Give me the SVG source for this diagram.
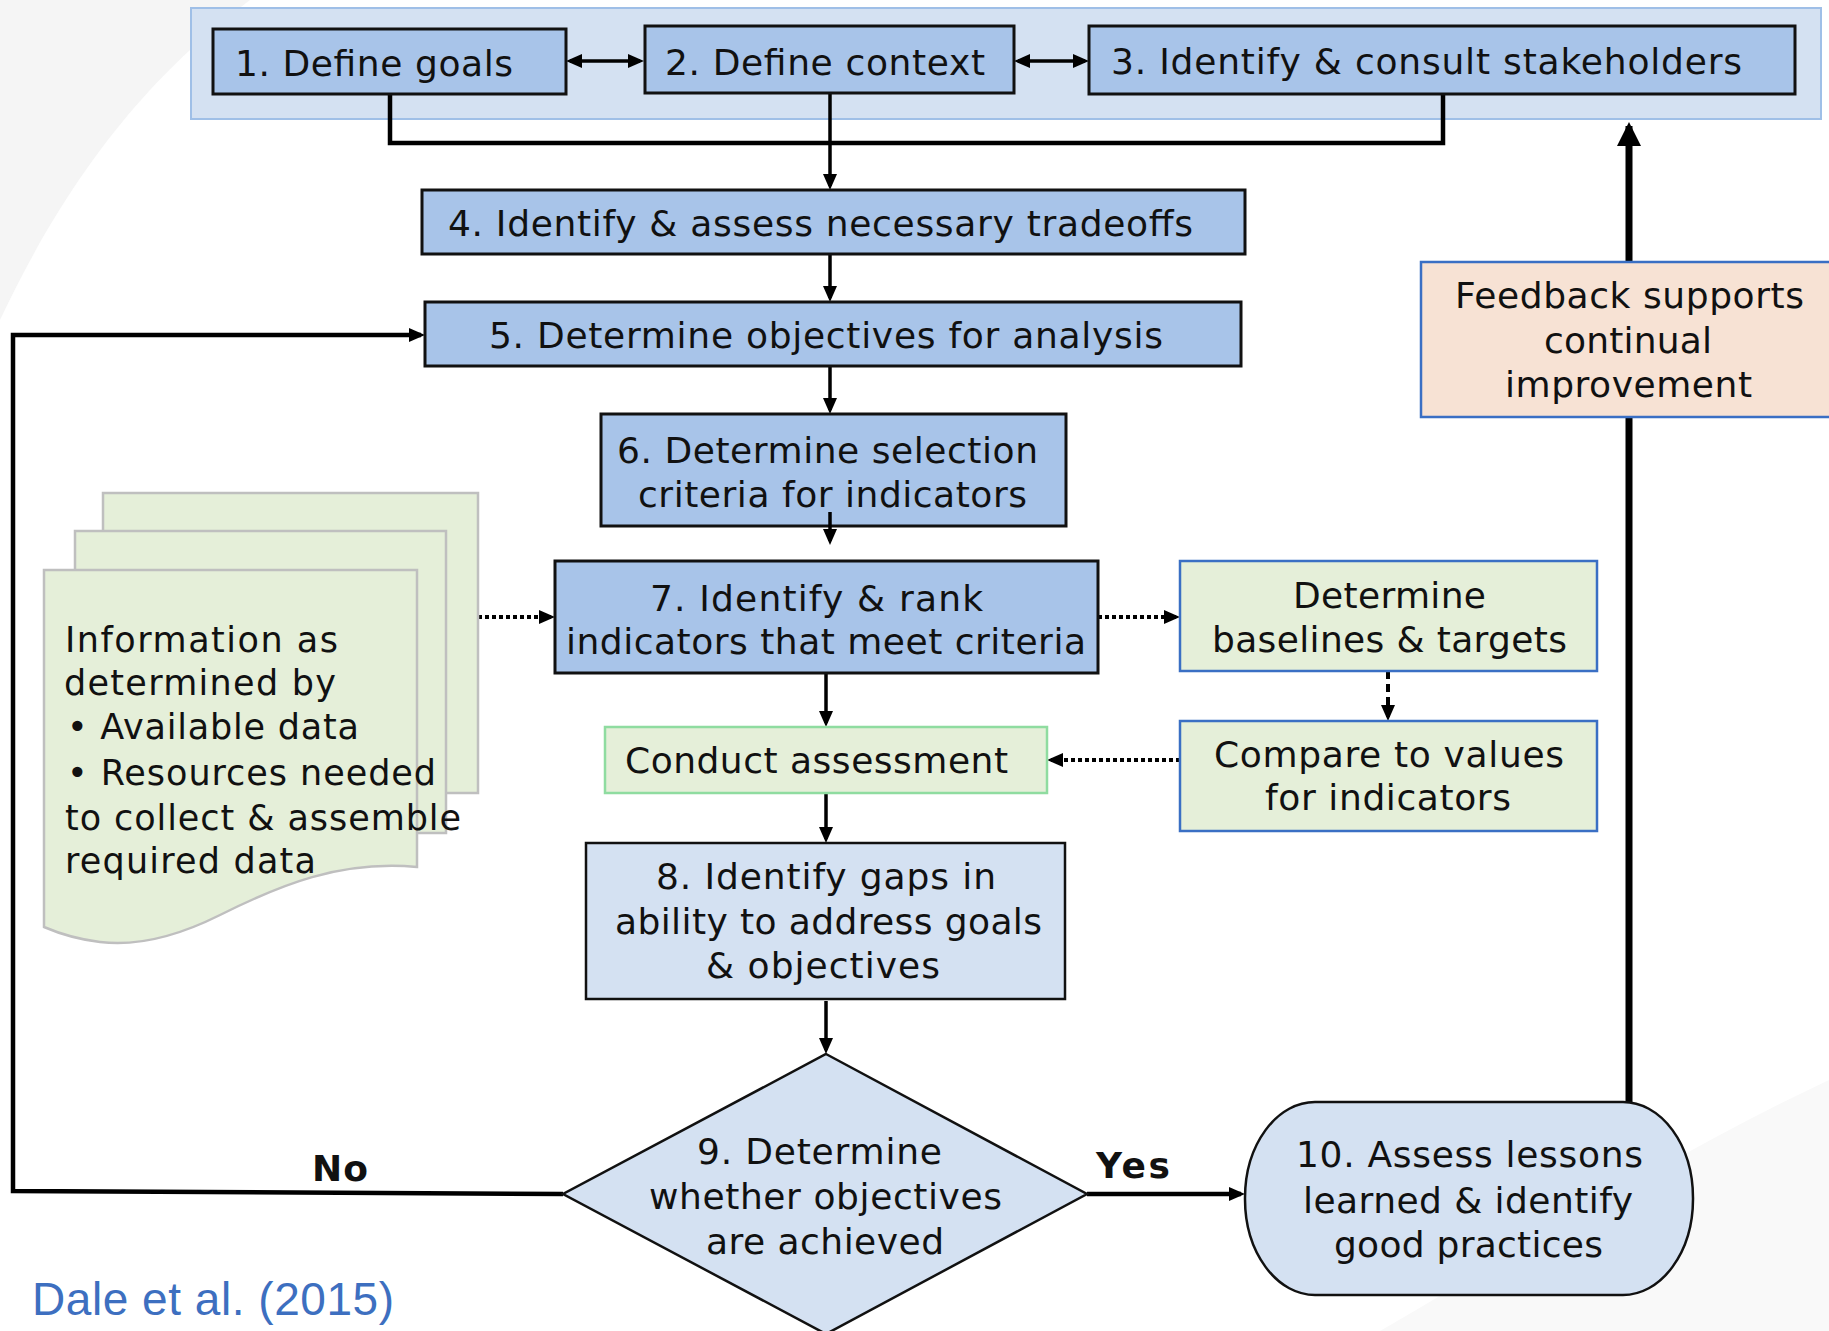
<svg xmlns="http://www.w3.org/2000/svg" width="1829" height="1331" viewBox="0 0 1829 1331">
  <defs>
    <style>
      .t{font-family:"DejaVu Sans","Noto Sans",sans-serif;font-size:36px;fill:#111}
      .doc{font-size:35px}
      .bold{font-weight:bold;font-size:36px}
      .cite{font-family:"Liberation Sans",Arial,sans-serif;font-size:46px;fill:#3d6fc0}
      .dark{fill:#a8c4e9;stroke:#111;stroke-width:3}
      .pale{fill:#d4e1f2;stroke:#111;stroke-width:2.5}
      .green{fill:#e5efd9;stroke:#3a6fc4;stroke-width:2.5}
      .sheet{fill:#e5efd9;stroke:#bfbfbf;stroke-width:2.5}
      .ln{fill:none;stroke:#000;stroke-width:3.5}
      .thick{fill:none;stroke:#000;stroke-width:4.5}
      .dot{fill:none;stroke:#000;stroke-width:4;stroke-dasharray:4 3}
      .dash{fill:none;stroke:#000;stroke-width:4;stroke-dasharray:8 5}
    </style>
    <marker id="ah" markerUnits="userSpaceOnUse" markerWidth="16" markerHeight="14" viewBox="0 0 16 14" refX="12" refY="7" orient="auto-start-reverse">
      <path d="M0,0 L16,7 L0,14 z" fill="#000"/>
    </marker>
    <marker id="ahBig" markerUnits="userSpaceOnUse" markerWidth="24" markerHeight="24" viewBox="0 0 24 24" refX="20" refY="12" orient="auto">
      <path d="M0,0 L24,12 L0,24 z" fill="#000"/>
    </marker>
  </defs>

  <!-- faint slide background swooshes -->
  <path d="M0,0 H250 C170,60 80,150 0,320 Z" fill="#f5f5f5"/>
  <path d="M1829,1331 H1380 C1520,1250 1680,1150 1829,1080 Z" fill="#f9f9f9"/>

  <!-- band behind steps 1-3 -->
  <rect id="band" x="191" y="8" width="1630" height="111" fill="#d4e1f2" stroke="#9fbfe7" stroke-width="2"/>

  <g id="connectors">
    <path class="ln" d="M570,61 H640" marker-start="url(#ah)" marker-end="url(#ah)"/>
    <path class="ln" d="M1018,61 H1085" marker-start="url(#ah)" marker-end="url(#ah)"/>
    <path class="thick" d="M390,93 V143 H1443 V94"/>
    <path class="ln" d="M830,93 V186" marker-end="url(#ah)"/>
    <path class="ln" d="M830,254 V298" marker-end="url(#ah)"/>
    <path class="ln" d="M830,366 V410" marker-end="url(#ah)"/>
    <path class="dot" d="M478,617 H551" marker-end="url(#ah)"/>
    <path class="dot" d="M1098,617 H1176" marker-end="url(#ah)"/>
    <path class="dash" d="M1388,671 V717" marker-end="url(#ah)"/>
    <path class="dot" d="M1180,760 H1051" marker-end="url(#ah)"/>
    <path class="ln" d="M826,673 V723" marker-end="url(#ah)"/>
    <path class="ln" d="M826,793 V839" marker-end="url(#ah)"/>
    <path class="ln" d="M826,1001 V1050" marker-end="url(#ah)"/>
    <path class="thick" d="M563,1194 L13,1191 V335 H421" marker-end="url(#ah)"/>
    <path class="thick" d="M1087,1194 H1241" marker-end="url(#ah)"/>
    <path fill="none" stroke="#000" stroke-width="7" d="M1629,1102 V417"/>
    <path fill="none" stroke="#000" stroke-width="7" d="M1629,262 V126" marker-end="url(#ahBig)"/>
  </g>

  <g id="step1">
    <rect class="dark" x="213" y="29" width="353" height="65"/>
    <text class="t" x="235" y="76" textLength="278" lengthAdjust="spacing">1. Define goals</text>
  </g>
  <g id="step2">
    <rect class="dark" x="645" y="26" width="369" height="67"/>
    <text class="t" x="665" y="75" textLength="320" lengthAdjust="spacing">2. Define context</text>
  </g>
  <g id="step3">
    <rect class="dark" x="1089" y="26" width="706" height="68"/>
    <text class="t" x="1111" y="74" textLength="631" lengthAdjust="spacing">3. Identify &amp; consult stakeholders</text>
  </g>
  <g id="step4">
    <rect class="dark" x="422" y="190" width="823" height="64"/>
    <text class="t" x="448" y="236" textLength="745" lengthAdjust="spacing">4. Identify &amp; assess necessary tradeoffs</text>
  </g>
  <g id="step5">
    <rect class="dark" x="425" y="302" width="816" height="64"/>
    <text class="t" x="489" y="348" textLength="674" lengthAdjust="spacing">5. Determine objectives for analysis</text>
  </g>
  <g id="step6">
    <rect class="dark" x="601" y="414" width="465" height="112"/>
    <text class="t" x="617" y="463" textLength="421" lengthAdjust="spacing">6. Determine selection</text>
    <text class="t" x="638" y="507" textLength="389" lengthAdjust="spacing">criteria for indicators</text>
  </g>
  <!-- short stem of the 6 -> 7 arrow sits over the box -->
  <path class="ln" d="M830,512 V541" marker-end="url(#ah)"/>

  <g id="info-sheets">
    <rect class="sheet" x="103" y="493" width="375" height="300"/>
    <rect class="sheet" x="75" y="531" width="371" height="302"/>
    <path class="sheet" d="M44,570 H417 V867 C340,860 280,885 220,915 C180,935 140,947 100,942 C75,939 58,933 44,927 Z"/>
    <text class="t doc" x="65" y="652" textLength="273" lengthAdjust="spacing">Information as</text>
    <text class="t doc" x="64" y="695" textLength="272" lengthAdjust="spacing">determined by</text>
    <text class="t doc" x="67" y="739" textLength="292" lengthAdjust="spacing">• Available data</text>
    <text class="t doc" x="67" y="785" textLength="369" lengthAdjust="spacing">• Resources needed</text>
    <text class="t doc" x="65" y="830" textLength="396" lengthAdjust="spacing">to collect &amp; assemble</text>
    <text class="t doc" x="65" y="873" textLength="251" lengthAdjust="spacing">required data</text>
  </g>

  <g id="step7">
    <rect class="dark" x="555" y="561" width="543" height="112"/>
    <text class="t" x="650" y="611" textLength="333" lengthAdjust="spacing">7. Identify &amp; rank</text>
    <text class="t" x="566" y="654" textLength="520" lengthAdjust="spacing">indicators that meet criteria</text>
  </g>
  <g id="baselines">
    <rect class="green" x="1180" y="561" width="417" height="110"/>
    <text class="t" x="1293" y="608" textLength="193" lengthAdjust="spacing">Determine</text>
    <text class="t" x="1212" y="652" textLength="355" lengthAdjust="spacing">baselines &amp; targets</text>
  </g>
  <g id="compare">
    <rect class="green" x="1180" y="721" width="417" height="110"/>
    <text class="t" x="1214" y="767" textLength="350" lengthAdjust="spacing">Compare to values</text>
    <text class="t" x="1265" y="810" textLength="246" lengthAdjust="spacing">for indicators</text>
  </g>
  <g id="conduct">
    <rect x="605" y="727" width="442" height="66" fill="#e5efd9" stroke="#8fdca0" stroke-width="2.5"/>
    <text class="t" x="625" y="773" textLength="383" lengthAdjust="spacing">Conduct assessment</text>
  </g>
  <g id="step8">
    <rect class="pale" x="586" y="843" width="479" height="156"/>
    <text class="t" x="656" y="889" textLength="340" lengthAdjust="spacing">8. Identify gaps in</text>
    <text class="t" x="615" y="934" textLength="427" lengthAdjust="spacing">ability to address goals</text>
    <text class="t" x="706" y="978" textLength="234" lengthAdjust="spacing">&amp; objectives</text>
  </g>
  <g id="step9">
    <polygon class="pale" points="826,1054 1087,1194 826,1334 563,1194"/>
    <text class="t" x="697" y="1164" textLength="245" lengthAdjust="spacing">9. Determine</text>
    <text class="t" x="649" y="1209" textLength="353" lengthAdjust="spacing">whether objectives</text>
    <text class="t" x="706" y="1254" textLength="238" lengthAdjust="spacing">are achieved</text>
  </g>
  <g id="step10">
    <rect class="pale" x="1245" y="1102" width="448" height="193" rx="70" ry="96"/>
    <text class="t" x="1296" y="1167" textLength="347" lengthAdjust="spacing">10. Assess lessons</text>
    <text class="t" x="1303" y="1213" textLength="330" lengthAdjust="spacing">learned &amp; identify</text>
    <text class="t" x="1334" y="1257" textLength="269" lengthAdjust="spacing">good practices</text>
  </g>
  <g id="feedback">
    <rect x="1421" y="262" width="420" height="155" fill="#f7e2d4" stroke="#3a6fc4" stroke-width="2.5"/>
    <text class="t" x="1455" y="308" textLength="349" lengthAdjust="spacing">Feedback supports</text>
    <text class="t" x="1544" y="353" textLength="168" lengthAdjust="spacing">continual</text>
    <text class="t" x="1505" y="397" textLength="247" lengthAdjust="spacing">improvement</text>
  </g>

  <g id="labels">
    <text class="t bold" x="312" y="1181" textLength="56" lengthAdjust="spacing">No</text>
    <text class="t bold" x="1096" y="1178" textLength="74" lengthAdjust="spacing">Yes</text>
    <text class="cite" x="32" y="1315" textLength="362" lengthAdjust="spacing">Dale et al. (2015)</text>
  </g>
</svg>
